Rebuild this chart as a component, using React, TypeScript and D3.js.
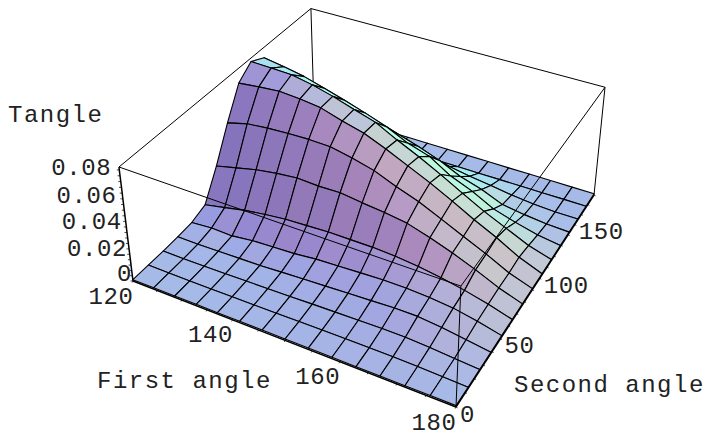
import React from 'react';
import * as d3 from 'd3';

const firstAngles = [120, 124.3, 128.6, 132.9, 137.1, 141.4, 145.7, 150, 154.3, 158.6, 162.9, 167.1, 171.4, 175.7, 180];
const secondAngles = [0, 12.9, 25.7, 38.6, 51.4, 64.3, 77.1, 90, 102.9, 115.7, 128.6, 141.4, 154.3, 167.1, 180];

// tangle[second angle index][first angle index]
const tangle = [
  [0, 0, 0, 0, 0, 0, 0, 0, 0, 0, 0, 0, 0, 0, 0],
  [0, 0, 0, 0, .0002, .0004, .0006, .0008, .001, .0012, .0012, .0012, .001, .0005, 0],
  [0, 0, .0002, .0004, .0008, .0012, .0016, .0021, .0025, .0029, .0033, .0033, .0025, .0012, 0],
  [.0004, .0004, .0008, .0012, .0016, .0025, .0033, .0041, .0049, .0057, .0066, .0066, .0049, .0025, 0],
  [.0012, .0025, .0021, .0041, .0049, .0057, .0074, .0082, .009, .0098, .0098, .009, .0074, .0041, 0],
  [.0049, .0082, .0115, .0139, .0156, .0164, .0172, .0172, .0172, .0164, .0148, .0123, .009, .0049, 0],
  [.0254, .0291, .0328, .0353, .0369, .0361, .0365, .0344, .0328, .0303, .0254, .0197, .0131, .0057, 0],
  [.0492, .0533, .0549, .0558, .0562, .0558, .0525, .0484, .0418, .0361, .0287, .0213, .0139, .0057, 0],
  [.0705, .0722, .0735, .0725, .0705, .0656, .0615, .0549, .0476, .0402, .032, .0235, .0156, .0066, 0],
  [.0785, .078, .0775, .0745, .0705, .0655, .0607, .0525, .0451, .0369, .028, .0197, .0123, .0049, 0],
  [.0735, .071, .068, .0635, .059, .054, .0485, .041, .0361, .0262, .0197, .0115, .0066, .0025, 0],
  [.0520, .0505, .0485, .045, .0415, .038, .0345, .0295, .0238, .0164, .0115, .0049, .0025, .0008, 0],
  [.0246, .0246, .023, .0221, .0205, .018, .0164, .0148, .0098, .007, .0049, .0025, .0008, 0, 0],
  [.0016, .0016, .0016, .0012, .0008, .0008, .0004, 0, 0, 0, 0, 0, 0, 0, 0],
  [0, 0, 0, 0, 0, 0, 0, 0, 0, 0, 0, 0, 0, 0, 0],
];

const firstTicks = [120, 140, 160, 180];
const secondTicks = [0, 50, 100, 150];
const tangleTicks = [0, 0.02, 0.04, 0.06, 0.08];
const firstMinor = d3.range(120, 180.1, 5);
const secondMinor = d3.range(0, 180.1, 10);
const tangleMinor = d3.range(0, 0.0801, 0.004);

const u = d3.scaleLinear().domain([120, 180]).range([0, 1]);
const v = d3.scaleLinear().domain([0, 180]).range([0, 1]);
const t = d3.scaleLinear().domain([0, 0.082]).range([0, 1]);
const surfaceLift = 0.001;

// floor corners on screen, and where the verticals converge
const floorA = [133, 281];
const floorB = [456, 407];
const floorC = [594, 195];
const floorD = [314, 110];
const vanish = [380, 2288];
const vertical = -0.05375;

const det = (p: number[], q: number[]) => p[0] * q[1] - p[1] * q[0];
const dx1 = [floorB[0] - floorC[0], floorB[1] - floorC[1]];
const dx2 = [floorD[0] - floorC[0], floorD[1] - floorC[1]];
const sum = [floorA[0] - floorB[0] + floorC[0] - floorD[0], floorA[1] - floorB[1] + floorC[1] - floorD[1]];
const g = det(sum, dx2) / det(dx1, dx2);
const h = det(dx1, sum) / det(dx1, dx2);

const project = (a: number, b: number, z: number): [number, number] => {
  const pu = u(a);
  const pv = v(b);
  const pt = t(z);
  const w = g * pu + h * pv + 1 + pt * vertical;
  const px = (floorB[0] - floorA[0] + g * floorB[0]) * pu + (floorD[0] - floorA[0] + h * floorD[0]) * pv + floorA[0] + pt * vertical * vanish[0];
  const py = (floorB[1] - floorA[1] + g * floorB[1]) * pu + (floorD[1] - floorA[1] + h * floorD[1]) * pv + floorA[1] + pt * vertical * vanish[1];
  return [px / w, py / w];
};

// shading as a linear fit on the cell normal, box ratios 1:1:0.4
const redShade = [0.46, 0.33, -0.01, 0.19];
const greenShade = [0.82, 0.1, 0.36, -0.09];
const blueShade = [0.79, -0.2, 0.17, 0.12];

const boxPoint = (i: number, j: number) => [u(firstAngles[i]), v(secondAngles[j]), t(tangle[j][i]) * 0.4];

const cellColor = (i: number, j: number) => {
  const p00 = boxPoint(i, j);
  const p11 = boxPoint(i + 1, j + 1);
  const p10 = boxPoint(i + 1, j);
  const p01 = boxPoint(i, j + 1);
  const d1 = [p11[0] - p00[0], p11[1] - p00[1], p11[2] - p00[2]];
  const d2 = [p01[0] - p10[0], p01[1] - p10[1], p01[2] - p10[2]];
  const n = [d1[1] * d2[2] - d1[2] * d2[1], d1[2] * d2[0] - d1[0] * d2[2], d1[0] * d2[1] - d1[1] * d2[0]];
  const len = Math.hypot(n[0], n[1], n[2]);
  const shade = (c: number[]) => 255 * Math.min(1, c[0] + (c[1] * n[0] + c[2] * n[1] + c[3] * n[2]) / len);
  return d3.rgb(shade(redShade), shade(greenShade), shade(blueShade)).formatHex();
};

const polygon = d3.line().curve(d3.curveLinearClosed);
const labelFont = { fontFamily: '"Liberation Mono", monospace', fontSize: 24, fill: '#222' };

const Edge = ({ p, q, width = 1 }: { p: [number, number]; q: [number, number]; width?: number }) => (
  <line x1={p[0]} y1={p[1]} x2={q[0]} y2={q[1]} stroke="#000" strokeWidth={width} />
);

export default function App() {
  const [x0, x1] = [120, 180];
  const [y0, y1] = [0, 180];
  const top = 0.082;

  const cells: { key: string; d: string; fill: string }[] = [];
  // far rows first, near cells last
  for (let j = secondAngles.length - 2; j >= 0; j--) {
    for (let i = 0; i < firstAngles.length - 1; i++) {
      const corners = [[i, j], [i + 1, j], [i + 1, j + 1], [i, j + 1]].map(([a, b]) =>
        project(firstAngles[a], secondAngles[b], tangle[b][a] + surfaceLift));
      cells.push({ key: `${i}-${j}`, d: polygon(corners) as string, fill: cellColor(i, j) });
    }
  }

  return (
    <svg width={704} height={439} viewBox="0 0 704 439" style={{ position: 'absolute', left: 0, top: 0, background: '#fff' }}>
      {/* back of the box */}
      <Edge p={project(x0, y1, top)} q={project(x1, y1, top)} />
      <Edge p={project(x0, y0, top)} q={project(x0, y1, top)} />
      <Edge p={project(x0, y1, 0)} q={project(x0, y1, top)} />
      <Edge p={project(x1, y1, 0)} q={project(x1, y1, top)} />

      {cells.map(c => (
        <path key={c.key} d={c.d} fill={c.fill} stroke="#000" strokeWidth={1.1} strokeLinejoin="round" />
      ))}

      {/* front of the box */}
      <Edge p={project(x0, y0, top)} q={project(x1, y0, top)} />
      <Edge p={project(x1, y0, top)} q={project(x1, y1, top)} />
      <Edge p={project(x1, y0, 0)} q={project(x1, y0, top)} />
      <Edge p={project(x0, y0, 0)} q={project(x1, y0, 0)} width={1.5} />
      <Edge p={project(x1, y0, 0)} q={project(x1, y1, 0)} width={1.5} />
      <Edge p={project(x0, y0, 0)} q={project(x0, y0, top)} width={1.5} />

      {/* minor ticks */}
      {tangleMinor.map(z => {
        const p = project(x0, y0, z);
        return <Edge key={`tz-${z}`} p={p} q={[p[0] - 2.5, p[1]]} width={0.7} />;
      })}
      {firstMinor.map(a => {
        const p = project(a, y0, 0);
        return <Edge key={`tx-${a}`} p={p} q={[p[0] - 0.8, p[1] + 1.6]} width={0.7} />;
      })}
      {secondMinor.map(b => {
        const p = project(x1, b, 0);
        return <Edge key={`ty-${b}`} p={p} q={[p[0] + 1.6, p[1] + 0.8]} width={0.7} />;
      })}

      {/* tick labels */}
      {tangleTicks.map(z => {
        const p = project(x0, y0, z);
        const f = z / 0.08;
        return (
          <text key={z} x={p[0] - 1 - f * 7} y={p[1] + f * 5} textAnchor="end" letterSpacing={0.6} {...labelFont}>
            {z}
          </text>
        );
      })}
      {firstTicks.map(a => {
        const p = project(a, y0, 0);
        return (
          <text key={a} x={p[0] - 22} y={p[1] + 22.5} textAnchor="middle" letterSpacing={0.6} {...labelFont}>
            {a}
          </text>
        );
      })}
      {secondTicks.map(b => {
        const p = project(x1, b, 0);
        return (
          <text key={b} x={p[0] + 4} y={p[1] + 14.5} letterSpacing={0.6} {...labelFont}>
            {b}
          </text>
        );
      })}

      <text x={8} y={122} letterSpacing={1.5} {...labelFont}>Tangle</text>
      <text x={97} y={388} letterSpacing={1.5} {...labelFont}>First angle</text>
      <text x={514} y={392} letterSpacing={1.5} {...labelFont}>Second angle</text>
    </svg>
  );
}
